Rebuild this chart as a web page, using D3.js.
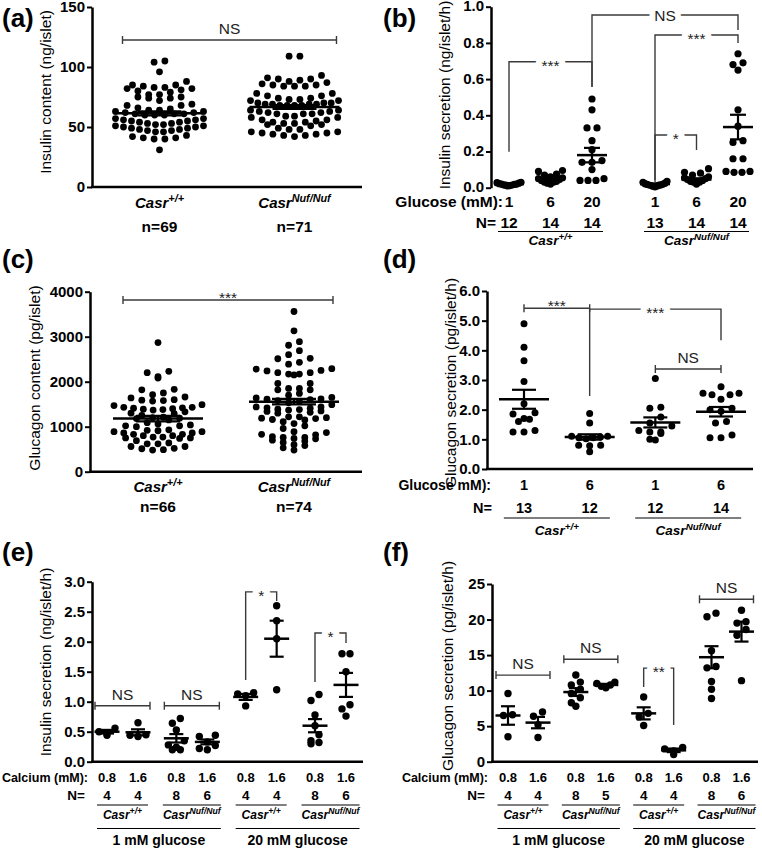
<!DOCTYPE html>
<html><head><meta charset="utf-8">
<script src="https://cdn.jsdelivr.net/npm/d3@7/dist/d3.min.js"></script>
<style>html,body{margin:0;padding:0;background:#fff}svg{display:block}</style>
</head><body>
<svg width="762" height="854"></svg>
<script>
// ================= DATA =================
// (a) Insulin content (ng/islet)
const aGenotypes = ["+/+", "Nuf/Nuf"];
const aCounts = ["n=69", "n=71"];
const aTicks = [0, 50, 100, 150];
const aTickLabels = ["0", "50", "100", "150"];
const aWT = [105,104,96, 88,85,83,82,81,82,83,84,85, 80,77,75,74,72,74,75,77,79,
  69,68,66,64,63,63,64,65,68, 62,61,61,60,60,60,61,62,
  57,56,55,54,53,52,51,51,52,53,54,55,56,57, 50,49,48,47,46,46,47,48,49,50,
  43,41,40,40,41,42, 31];
const aNuf = [109,109,93,91, 90,89,87,85,84,84,84,85,86,88,90, 78,76,74,73,72,72,73,74,76,78,
  70,70,69,69,68,68,68,68,69,69,70, 64,63,62,61,61,61,62,63,64,
  59,58,56,55,54,53,52,51,52,53,54,56,58,59, 49,48,46,45,44,43,42,43,44,45,46,48];
const aMean = [61.4, 66.7];
const aSem = [1.7, 1.6];
const aSig = {label: "NS", value: 122.5};

// (b) Insulin secretion (ng/islet/h)
const bGenotypes = ["+/+", "Nuf/Nuf"];
const bGlucose = ["1", "6", "20"];
const bN = [12, 14, 14, 13, 14, 14];
const bTicks = [0, 0.2, 0.4, 0.6, 0.8, 1.0];
const bTickLabels = ["0.0", "0.2", "0.4", "0.6", "0.8", "1.0"];
const bValues = [
  [0.01,0.012,0.014,0.015,0.016,0.018,0.02,0.02,0.022,0.025,0.028,0.03],
  [0.095,0.09,0.075,0.07,0.06,0.055,0.05,0.045,0.04,0.035,0.03,0.03,0.025,0.02],
  [0.49,0.43,0.33,0.33,0.26,0.21,0.15,0.14,0.14,0.10,0.05,0.04,0.04,0.04],
  [0.005,0.008,0.01,0.012,0.014,0.015,0.016,0.018,0.02,0.022,0.025,0.03,0.035],
  [0.105,0.085,0.08,0.07,0.06,0.055,0.05,0.045,0.04,0.035,0.03,0.03,0.025,0.02],
  [0.74,0.69,0.68,0.65,0.43,0.34,0.26,0.25,0.16,0.16,0.09,0.085,0.085,0.09]
];
const bMean = [0.02, 0.05, 0.18, 0.02, 0.045, 0.335];
const bSem = [0.002, 0.007, 0.04, 0.003, 0.007, 0.068];
const bBrackets = [
  {from: 0, to: 2, top: 0.696, fromEnd: 0.199, toEnd: 0.558, label: "***"},
  {from: 2, to: 5, top: 0.954, fromEnd: 0.556, toEnd: 0.871, label: "NS"},
  {from: 3, to: 5, top: 0.844, fromEnd: 0.03, toEnd: 0.80, label: "***"},
  {from: 3, to: 4, top: 0.291, fromEnd: 0.043, toEnd: 0.208, label: "*"}
];

// (c) Glucagon content (pg/islet)
const cGenotypes = ["+/+", "Nuf/Nuf"];
const cCounts = ["n=66", "n=74"];
const cTicks = [0, 1000, 2000, 3000, 4000];
const cTickLabels = ["0", "1000", "2000", "3000", "4000"];
const cWT = [2870, 2200,2080,2110,2230, 1830,1820,
  1710,1640,1580,1570,1590,1600,1660,1750,
  1490,1430,1420,1400,1380,1370,1390,1410,1430,1470, 1330,1300,1290,1250,
  1210,1190,1180,1200,1150, 1090,1060,1040,1020,1000,1020,
  930,910,890,860,830,800,770,750,740,750,770,800,830,860,890,920,
  690,640,620,560,520,490,480,510,560,620];
const cNuf = [3560,3130,2890,2810,2690,2600,2520,2510,2430,2390,
  2290,2250,2200,2170,2150,2170,2200,2240,2280,
  1960,1850,1820,1820,1850,1960,
  1740,1700,1640,1610,1600,1620,1650,1580,1560,1530,
  1490,1440,1420,1390,1370,1340,1320,1350,1380,1410,1440,
  1300,1220,1190,1160,1110,1020,1070,1150,1180,1200,1220,
  960,870,820,760,740,730,760,780,830,890,
  680,650,580,480,530,600,700];
const cMean = [1180, 1556];
const cSem = [60, 62];
const cSig = {label: "***", value: 3816};

// (d) Glucagon secretion (pg/islet/h)
const dGenotypes = ["+/+", "Nuf/Nuf"];
const dGlucose = ["1", "6", "1", "6"];
const dN = [13, 12, 12, 14];
const dTicks = [0, 1, 2, 3, 4, 5, 6];
const dTickLabels = ["0.0", "1.0", "2.0", "3.0", "4.0", "5.0", "6.0"];
const dValues = [
  [4.9,4.1,3.65,2.95,2.2,1.9,1.85,1.7,1.6,1.68,1.3,1.25,1.25],
  [1.87,1.55,1.1,1.1,1.08,1.05,1.05,1.02,0.8,0.8,0.78,0.58],
  [3.05,2.08,2.05,1.75,1.55,1.45,1.3,1.25,1.25,1.2,1.0,0.98],
  [2.77,2.55,2.5,2.5,2.55,2.35,2.05,2.0,1.95,1.6,1.55,1.15,1.05,1.05]
];
const dMean = [2.35, 1.08, 1.57, 1.93];
const dSem = [0.32, 0.09, 0.17, 0.16];
const dCapped = [{from: 0, to: 1, value: 5.42, label: "***"}, {from: 2, to: 3, value: 3.37, label: "NS"}];
const dLegs = [{from: 1, to: 3, top: 5.39, fromEnd: 2.46, toEnd: 4.34, label: "***"}];

// (e) Insulin secretion vs calcium
const eCalcium = ["0.8", "1.6"];
const eGenotypes = ["+/+", "Nuf/Nuf", "+/+", "Nuf/Nuf"];
const eGlucose = ["1 mM glucose", "20 mM glucose"];
const eN = [4, 4, 8, 6, 4, 4, 8, 6];
const eTicks = [0, 0.5, 1, 1.5, 2, 2.5, 3];
const eTickLabels = ["0.0", "0.5", "1.0", "1.5", "2.0", "2.5", "3.0"];
const eValues = [
  [0.56,0.5,0.47,0.44], [0.65,0.45,0.44,0.42],
  [0.72,0.64,0.53,0.35,0.28,0.24,0.2,0.2], [0.44,0.42,0.33,0.27,0.22,0.2],
  [1.15,1.13,1.1,0.93], [2.6,2.35,2.05,1.2],
  [1.12,1.02,0.78,0.6,0.45,0.35,0.32,0.3], [1.8,1.8,1.5,0.95,0.88,0.76]
];
const eMean = [0.5, 0.49, 0.39, 0.33, 1.08, 2.05, 0.6, 1.28];
const eSem = [0.03, 0.05, 0.07, 0.04, 0.05, 0.3, 0.11, 0.2];
const eCapped = [{from: 0, to: 1, value: 0.933, label: "NS"}, {from: 2, to: 3, value: 0.933, label: "NS"}];
const eLegs = [{from: 4, to: 5, top: 2.83, fromEnd: 1.36, toEnd: 2.68, label: "*"},
               {from: 6, to: 7, top: 2.145, fromEnd: 1.33, toEnd: 1.98, label: "*"}];

// (f) Glucagon secretion vs calcium
const fCalcium = ["0.8", "1.6"];
const fGenotypes = ["+/+", "Nuf/Nuf", "+/+", "Nuf/Nuf"];
const fGlucose = ["1 mM glucose", "20 mM glucose"];
const fN = [4, 4, 8, 5, 4, 4, 8, 6];
const fTicks = [0, 5, 10, 15, 20, 25];
const fTickLabels = ["0", "5", "10", "15", "20", "25"];
const fValues = [
  [9.6,6.6,6.5,3.5], [7.0,6.4,5.2,3.4],
  [12.2,11.2,10.8,10.2,9.6,9.0,8.3,7.8], [11.2,11.0,10.8,10.6,10.4],
  [9.1,6.8,6.3,5.1], [2.0,1.8,1.5,1.0],
  [20.9,20.4,15.6,13.4,13.2,11.3,10.2,8.9], [21.3,19.7,19.5,18.6,17.8,11.4]
];
const fMean = [6.5, 5.5, 9.8, 10.8, 6.8, 1.6, 14.7, 18.3];
const fSem = [1.3, 0.8, 0.55, 0.15, 0.85, 0.25, 1.55, 1.4];
const fCapped = [{from: 0, to: 1, value: 12.18, label: "NS"}, {from: 2, to: 3, value: 14.42, label: "NS"},
                 {from: 6, to: 7, value: 22.85, label: "NS"}];
const fLegs = [{from: 4, to: 5, top: 13.16, fromEnd: 10.5, toEnd: 5.15, label: "**"}];

// ================= HELPERS =================
const FONT = "'Liberation Sans', Arial, Helvetica, sans-serif";
const svg = d3.select("svg");
svg.append("rect").attr("width", 762).attr("height", 854).attr("fill", "#fff");
const BR = "#3a3a3a";

function text(x, y, s, o = {}) {
  const t = svg.append("text").attr("x", x).attr("y", y).text(s)
    .attr("font-family", FONT).attr("font-size", o.size || 15)
    .attr("font-weight", o.weight || "bold").attr("text-anchor", o.anchor || "middle")
    .attr("fill", o.fill || "#000");
  if (o.italic) t.attr("font-style", "italic");
  return t;
}
function casr(x, y, sup, size) {
  const t = svg.append("text").attr("x", x).attr("y", y).attr("text-anchor", "middle")
    .attr("font-family", FONT).attr("font-weight", "bold").attr("font-style", "italic")
    .attr("font-size", size).attr("fill", "#000");
  t.append("tspan").text("Casr");
  t.append("tspan").attr("dy", -size * 0.38).attr("font-size", size * 0.72).text(sup);
}
function yTitle(x, yc, s) {
  svg.append("text").attr("transform", `translate(${x},${yc}) rotate(-90)`)
    .attr("text-anchor", "middle").attr("dominant-baseline", "central")
    .attr("font-family", FONT).attr("font-size", 15.5).attr("fill", "#000").text(s);
}
function yAxis(x0, y, ticks, labels) {
  const ax = d3.axisLeft(y).tickValues(ticks).tickFormat((d, i) => labels[i])
    .tickSize(5).tickSizeOuter(0).tickPadding(2);
  const a = svg.append("g").attr("transform", `translate(${x0},0)`).call(ax);
  a.select(".domain").attr("stroke", "#000").attr("stroke-width", 2.5);
  a.selectAll(".tick line").attr("stroke", "#000").attr("stroke-width", 2);
  a.selectAll(".tick text").attr("font-family", FONT).attr("font-size", 15)
    .attr("font-weight", "bold").attr("fill", "#000");
  return a;
}
function hLine(x1, x2, yy, w = 2.5, c = "#000") {
  svg.append("line").attr("x1", x1).attr("x2", x2).attr("y1", yy).attr("y2", yy)
    .attr("stroke", c).attr("stroke-width", w);
}
// GraphPad-like row swarm: points binned into rows, lowest value of each row in the centre
function rowSwarm(vals, y, r, maxHalf, sMax) {
  const d = 2 * r;
  const pts = vals.map(v => ({v, y: y(v)})).sort((a, b) => a.y - b.y);
  const rows = [];
  let cur = null;
  for (const p of pts) {
    if (!cur || p.y - cur.y0 >= d * 0.9) { cur = {y0: p.y, pts: []}; rows.push(cur); }
    cur.pts.push(p);
  }
  const out = [];
  for (const row of rows) {
    const n = row.pts.length;
    const s = n > 1 ? Math.min(sMax, 2 * maxHalf / (n - 1)) : 0;
    const slots = d3.range(n).map(i => (i - (n - 1) / 2) * s)
      .sort((a, b) => Math.abs(a) - Math.abs(b) || a - b);
    const byLow = row.pts.slice().sort((a, b) => b.y - a.y);
    byLow.forEach((p, i) => { p.dx = slots[i]; out.push(p); });
  }
  return out;
}
function dots(vals, cx, y, r, maxHalf, sMax) {
  const pts = rowSwarm(vals, y, r, maxHalf, sMax);
  svg.append("g").selectAll("circle").data(pts).join("circle")
    .attr("cx", d => cx + d.dx).attr("cy", d => d.y).attr("r", r).attr("fill", "#000");
}
function meanSem(cx, y, m, s, mw, sw) {
  hLine(cx - mw, cx + mw, y(m), 2.5);
  hLine(cx - sw, cx + sw, y(m + s), 2.2);
  hLine(cx - sw, cx + sw, y(m - s), 2.2);
  svg.append("line").attr("x1", cx).attr("x2", cx).attr("y1", y(m - s)).attr("y2", y(m + s))
    .attr("stroke", "#000").attr("stroke-width", 2.2);
}
function capBracket(x1, x2, yy, label) {
  hLine(x1, x2, yy, 1.4, BR);
  [x1, x2].forEach(x => svg.append("line").attr("x1", x).attr("x2", x)
    .attr("y1", yy - 4).attr("y2", yy + 4).attr("stroke", BR).attr("stroke-width", 1.4));
  const star = label.includes("*");
  text((x1 + x2) / 2, star ? yy + 3 : yy - 6, label, {size: 15.5, weight: "normal", fill: "#222"});
}
function legBracket(x1, y1, x2, y2, yt, label) {
  svg.append("path").attr("d", `M${x1},${y1}V${yt}H${x2}V${y2}`)
    .attr("fill", "none").attr("stroke", BR).attr("stroke-width", 1.4);
  const star = label.includes("*");
  text((x1 + x2) / 2, yt + (star ? 9 : 5.5), label, {size: 15.5, weight: "normal", fill: "#222"})
    .attr("stroke", "#fff").attr("stroke-width", 12).attr("stroke-linejoin", "round")
    .attr("paint-order", "stroke");
}
function panelLabel(x, y, s) { text(x, y, s, {size: 26, anchor: "start"}); }

// ================= PANEL (a) =================
{
  const y = d3.scaleLinear().domain([0, 150]).range([187, 7]);
  const x = d3.scaleBand().domain(aGenotypes).range([92, 362]);
  const cx = g => x(g) + x.bandwidth() / 2;
  panelLabel(2, 27, "(a)");
  yTitle(45, 92, "Insulin content (ng/islet)");
  [aWT, aNuf].forEach((v, i) => dots(v, cx(aGenotypes[i]), y, 3.4, 44, 10.8));
  aGenotypes.forEach((g, i) => meanSem(cx(g), y, aMean[i], aSem[i], 45, 22));
  yAxis(92, y, aTicks, aTickLabels);
  hLine(91, 362, y(0), 2.5);
  capBracket(cx(aGenotypes[0]) - 37, cx(aGenotypes[1]) + 42, y(aSig.value), aSig.label);
  aGenotypes.forEach((g, i) => { casr(cx(g), 208, g, 15); text(cx(g), 232, aCounts[i], {size: 15.5}); });
}

// ================= PANEL (b) =================
{
  const y = d3.scaleLinear().domain([0, 1]).range([187.7, 6.7]);
  const gx = d3.scalePoint().domain(bGenotypes).range([550.5, 696.5]);
  const ix = d3.scalePoint().domain(bGlucose).range([-41.5, 41.5]);
  const xs = d3.range(6).map(i => gx(bGenotypes[Math.floor(i / 3)]) + ix(bGlucose[i % 3]));
  panelLabel(383, 27, "(b)");
  yTitle(444, 95, "Insulin secretion (ng/islet/h)");
  bBrackets.forEach(b => legBracket(xs[b.from], y(b.fromEnd), xs[b.to], y(b.toEnd), y(b.top), b.label));
  bValues.forEach((v, i) => dots(v, xs[i], y, 3.6, 12, 10));
  bValues.forEach((v, i) => meanSem(xs[i], y, bMean[i], bSem[i], 15, 8));
  const ax = yAxis(491, y, bTicks, bTickLabels);
  ax.selectAll(".tick text").attr("dy", "0.28em");
  text(503, 207, "Glucose (mM):", {size: 15.5, anchor: "end"});
  text(496, 228, "N=", {size: 15.5, anchor: "end"});
  xs.forEach((xx, i) => { text(xx, 207, bGlucose[i % 3], {size: 15.5}); text(xx, 228, bN[i], {size: 15.5}); });
  bGenotypes.forEach(g => { hLine(gx(g) - 52.5, gx(g) + 52.5, 231.5, 1.2); casr(gx(g), 245, g, 13.5); });
}

// ================= PANEL (c) =================
{
  const y = d3.scaleLinear().domain([0, 4000]).range([471.7, 291.7]);
  const x = d3.scaleBand().domain(cGenotypes).range([90, 362]);
  const cx = g => x(g) + x.bandwidth() / 2;
  panelLabel(2, 268, "(c)");
  yTitle(34, 378, "Glucagon content (pg/islet)");
  [cWT, cNuf].forEach((v, i) => dots(v, cx(cGenotypes[i]), y, 3.4, 44, 10.8));
  cGenotypes.forEach((g, i) => meanSem(cx(g), y, cMean[i], cSem[i], 45, 22));
  yAxis(90, y, cTicks, cTickLabels);
  hLine(89, 362, y(0), 2.5);
  capBracket(cx(cGenotypes[0]) - 35, cx(cGenotypes[1]) + 39, y(cSig.value), cSig.label);
  cGenotypes.forEach((g, i) => { casr(cx(g), 492, g, 15); text(cx(g), 512, cCounts[i], {size: 15.5}); });
}

// ================= PANEL (d) =================
{
  const y = d3.scaleLinear().domain([0, 6]).range([469, 291]);
  const x = d3.scalePoint().domain(d3.range(4)).range([524, 721]);
  panelLabel(383, 268, "(d)");
  yTitle(450, 383, "Glucagon secretion (pg/islet/h)");
  dValues.forEach((v, i) => dots(v, x(i), y, 3.5, 18, 11));
  dValues.forEach((v, i) => meanSem(x(i), y, dMean[i], dSem[i], 25, 12));
  dLegs.forEach(b => legBracket(x(b.from), y(b.fromEnd), x(b.to), y(b.toEnd), y(b.top), b.label));
  dCapped.forEach(b => capBracket(x(b.from), x(b.to), y(b.value), b.label));
  yAxis(487, y, dTicks, dTickLabels);
  hLine(486, 753, y(0), 2.5);
  text(491, 490, "Glucose mM):", {size: 14, anchor: "end"});
  text(492, 513, "N=", {size: 14.5, anchor: "end"});
  d3.range(4).forEach(i => { text(x(i), 490, dGlucose[i], {size: 14.5}); text(x(i), 513, dN[i], {size: 14.5}); });
  dGenotypes.forEach((g, k) => {
    const c = (x(2 * k) + x(2 * k + 1)) / 2;
    hLine(c - 53, c + 53, 518, 1.2);
    casr(c, 535, g, 13.5);
  });
}

// ================= PANELS (e), (f) =================
function calciumPanel(P) {
  const y = d3.scaleLinear().domain(P.domain).range([761.7, P.top]);
  const px = d3.scalePoint().domain(d3.range(4)).range(P.pairRange);
  const ix = d3.scalePoint().domain(P.calcium).range([-P.inner, P.inner]);
  const xs = d3.range(8).map(i => px(Math.floor(i / 2)) + ix(P.calcium[i % 2]));
  panelLabel(P.labelX, 561, P.label);
  yTitle(P.titleX, P.titleY, P.title);
  P.values.forEach((v, i) => dots(v, xs[i], y, 3.7, P.maxHalf, P.sMax));
  P.values.forEach((v, i) => meanSem(xs[i], y, P.mean[i], P.sem[i], 12.5, 7));
  P.capped.forEach(b => capBracket(xs[b.from] - 12, xs[b.to] + 12, y(b.value), b.label));
  P.legs.forEach(b => legBracket(xs[b.from], y(b.fromEnd), xs[b.to], y(b.toEnd), y(b.top), b.label));
  yAxis(P.axisX, y, P.ticks, P.tickLabels);
  hLine(P.axisX - 1, P.axisEnd, y(0), 2.5);
  text(P.axisX - 4, 782, "Calcium (mM):", {size: 12.5, anchor: "end"});
  text(P.axisX - 7, 800, "N=", {size: 13.5, anchor: "end"});
  xs.forEach((xx, i) => { text(xx, 782, P.calcium[i % 2], {size: 13}); text(xx, 800, P.n[i], {size: 13.5}); });
  P.genotypes.forEach((g, k) => {
    const c = px(k);
    const hw = g === "+/+" ? 25.5 : 29;
    hLine(c - hw, c + hw, 805, 1.2);
    casr(c, 819, g, 12);
  });
  P.glucose.forEach((s, k) => {
    const x1 = px(2 * k) - 25.5, x2 = px(2 * k + 1) + 29;
    hLine(x1, x2, 828.5, 1.2);
    text((x1 + x2) / 2, 845, s, {size: 14});
  });
}
calciumPanel({label: "(e)", labelX: 2, domain: [0, 3], top: 581.7, pairRange: [122.5, 330.5], inner: 15.5,
  calcium: eCalcium, genotypes: eGenotypes, glucose: eGlucose, n: eN, ticks: eTicks, tickLabels: eTickLabels,
  values: eValues, mean: eMean, sem: eSem, capped: eCapped, legs: eLegs, maxHalf: 8, sMax: 8,
  axisX: 92, axisEnd: 363, titleX: 45, titleY: 662, title: "Insulin secretion (ng/islet/h)"});
calciumPanel({label: "(f)", labelX: 383, domain: [0, 25], top: 584, pairRange: [523, 726.5], inner: 15,
  calcium: fCalcium, genotypes: fGenotypes, glucose: fGlucose, n: fN, ticks: fTicks, tickLabels: fTickLabels,
  values: fValues, mean: fMean, sem: fSem, capped: fCapped, legs: fLegs, maxHalf: 9, sMax: 9,
  axisX: 492, axisEnd: 758, titleX: 447, titleY: 666, title: "Glucagon secretion (pg/islet/h)"});
</script>
</body></html>
